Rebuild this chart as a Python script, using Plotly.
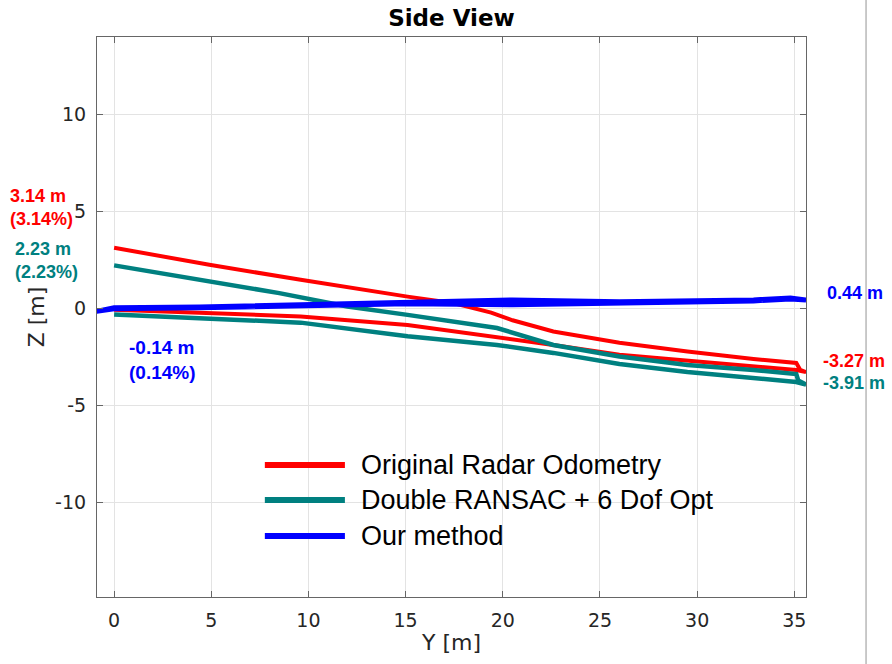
import plotly.graph_objects as go

# ---------------- data (Y [m], Z [m]) ----------------
names = ["Original Radar Odometry", "Double RANSAC + 6 Dof Opt", "Our method"]
colors = ["#ff0000", "#008080", "#0000ff"]

red_y = [0, 4.4, 9.6, 15.1, 19.7, 22.6, 26, 29.5, 32.9, 35.1, 35.6,
         35.3, 35.1, 32.9, 29.5, 26, 22.6, 20.5, 19.4, 17.5, 15.1, 12, 9.6, 4.9, 0]
red_z = [-0.05, -0.2, -0.4, -0.84, -1.44, -1.87, -2.38, -2.69, -2.98, -3.16, -3.27,
         -3.15, -2.8, -2.59, -2.21, -1.76, -1.18, -0.6, -0.2, 0.28, 0.62, 1.1, 1.49, 2.26, 3.14]

green_y = [0, 4.4, 9.6, 15.1, 19.7, 22.6, 26, 29.5, 32.9, 35.1, 35.6,
           35.2, 35.1, 32.9, 29.5, 26, 22.6, 19.7, 15.1, 12, 8.5, 4.9, 0]
green_z = [-0.3, -0.49, -0.72, -1.42, -1.87, -2.28, -2.85, -3.26, -3.57, -3.78, -3.91,
           -3.7, -3.37, -3.16, -2.9, -2.47, -1.87, -1.0, -0.32, 0.11, 0.8, 1.4, 2.23]

blue_y = [-0.9, 0, 4.4, 9.6, 15.1, 20.5, 26, 29.5, 32.9, 34.8, 35.6,
          34.8, 32.9, 29.5, 26, 20.5, 17, 15.1, 9.6, 4.4, 0, -0.9]
blue_z = [-0.14, 0.0, 0.05, 0.15, 0.25, 0.2, 0.3, 0.33, 0.4, 0.5, 0.44,
          0.55, 0.45, 0.38, 0.35, 0.45, 0.35, 0.3, 0.2, 0.08, 0.05, -0.14]

x_ticks = [0, 5, 10, 15, 20, 25, 30, 35]
y_ticks = [-10, -5, 0, 5, 10]
y_tick_text = ["-10", "-5", "0", "5", "10"]

start_labels = ["3.14 m<br>(3.14%)", "2.23 m<br>(2.23%)", "-0.14 m<br>(0.14%)"]
end_labels = ["-3.27 m", "-3.91 m", "0.44 m"]

# ---------------- layout helpers (pixel -> paper) ----------------
W, H = 892, 664
PL, PR, PT, PB = 97.3, 805.7, 37, 597
def px(x):
    return (x - PL) / (PR - PL)
def py(y):
    return (PB - y) / (PB - PT)

fig = go.Figure()
series = [(red_y, red_z, 4), (green_y, green_z, 4.5), (blue_y, blue_z, 5)]
for (xs, zs, w), nm, c in zip(series, names, colors):
    fig.add_trace(go.Scatter(x=xs, y=zs, mode="lines", name=nm,
                             line=dict(color=c, width=w), showlegend=False))

annos = []
# start-point labels (left)
start_pos = [(8, 207), (13, 260), (127, 360)]
start_sizes = [18, 18, 19]
for t, c, (x, y), s in zip(start_labels, colors, start_pos, start_sizes):
    annos.append(dict(text="<b>%s</b>" % t, x=px(x), y=py(y), xref="paper", yref="paper",
                      xanchor="left", yanchor="middle", align="left", showarrow=False,
                      font=dict(family="Liberation Sans, Arial", size=s, color=c)))
# end-point labels (right)
end_pos = [(821, 361), (821, 383), (825, 293)]
for t, c, (x, y) in zip(end_labels, colors, end_pos):
    annos.append(dict(text="<b>%s</b>" % t, x=px(x), y=py(y), xref="paper", yref="paper",
                      xanchor="left", yanchor="middle", align="left", showarrow=False,
                      font=dict(family="Liberation Sans, Arial", size=18, color=c)))

# manual legend
shapes = []
leg_rows = [465, 500, 536]
for nm, c, y in zip(names, colors, leg_rows):
    shapes.append(dict(type="line", xref="paper", yref="paper",
                       x0=px(265), x1=px(345), y0=py(y), y1=py(y),
                       line=dict(color=c, width=6)))
    annos.append(dict(text=nm, x=px(359), y=py(y), xref="paper", yref="paper",
                      xanchor="left", yanchor="middle", showarrow=False,
                      font=dict(family="Liberation Sans, Arial", size=27, color="#000000")))

# screenshot edge line at right
shapes.append(dict(type="line", xref="paper", yref="paper",
                   x0=px(865.7), x1=px(865.7), y0=py(664), y1=py(0),
                   line=dict(color="#b8b8b8", width=1.5)))

axis_common = dict(showline=True, mirror="ticks", linecolor="#666666", linewidth=1.2,
                   ticks="inside", ticklen=6, tickcolor="#666666",
                   showgrid=True, gridcolor="#e3e3e3", gridwidth=1, zeroline=False,
                   tickfont=dict(family="DejaVu Sans", size=19, color="#262626"))

fig.update_layout(
    width=W, height=H,
    margin=dict(l=PL, r=W - PR, t=PT, b=H - PB),
    paper_bgcolor="white", plot_bgcolor="white",
    title=dict(text="<b>Side View</b>", x=(PL + PR) / 2 / W, xanchor="center",
               y=1 - 18 / H, yanchor="middle",
               font=dict(family="DejaVu Sans", size=23, color="#000000")),
    xaxis=dict(range=[-0.88, 35.6], tickvals=x_ticks, ticklabelstandoff=6,
               title=dict(text="Y [m]", standoff=4,
                          font=dict(family="DejaVu Sans", size=22, color="#262626")),
               **axis_common),
    yaxis=dict(range=[-14.86, 14.0], tickvals=y_ticks, ticktext=y_tick_text,
               ticklabelstandoff=6,
               title=dict(text="Z [m]", standoff=4,
                          font=dict(family="DejaVu Sans", size=22, color="#262626")),
               **axis_common),
    annotations=annos, shapes=shapes, showlegend=False,
)

fig.write_html("out.html")
